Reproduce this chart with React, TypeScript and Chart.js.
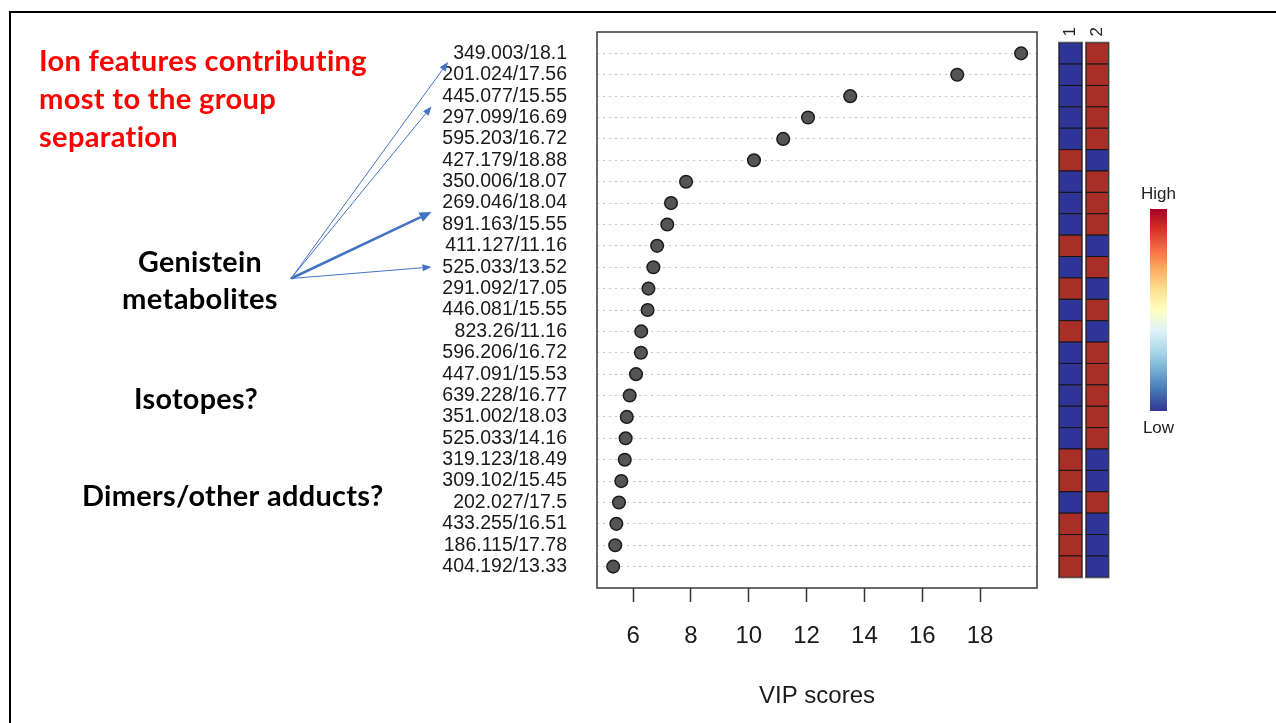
import React, { useEffect, useRef } from "react";
import { Chart, registerables } from "chart.js";

Chart.register(...registerables);

// ---- data ----
const features = [
  "349.003/18.1",
  "201.024/17.56",
  "445.077/15.55",
  "297.099/16.69",
  "595.203/16.72",
  "427.179/18.88",
  "350.006/18.07",
  "269.046/18.04",
  "891.163/15.55",
  "411.127/11.16",
  "525.033/13.52",
  "291.092/17.05",
  "446.081/15.55",
  "823.26/11.16",
  "596.206/16.72",
  "447.091/15.53",
  "639.228/16.77",
  "351.002/18.03",
  "525.033/14.16",
  "319.123/18.49",
  "309.102/15.45",
  "202.027/17.5",
  "433.255/16.51",
  "186.115/17.78",
  "404.192/13.33",
];

const vipScores = [
  19.42, 17.21, 13.51, 12.05, 11.19, 10.18, 7.83, 7.31, 7.18, 6.83, 6.7, 6.53,
  6.5, 6.28, 6.27, 6.1, 5.88, 5.78, 5.74, 5.71, 5.59, 5.51, 5.42, 5.38, 5.31,
];

// 1 = high (red), 0 = low (blue)
const group1High = [0, 0, 0, 0, 0, 1, 0, 0, 0, 1, 0, 1, 0, 1, 0, 0, 0, 0, 0, 1, 1, 0, 1, 1, 1];
const group2High = [1, 1, 1, 1, 1, 0, 1, 1, 1, 0, 1, 0, 1, 0, 1, 1, 1, 1, 1, 0, 0, 1, 0, 0, 0];
const groupLabels = ["1", "2"];

const xTicks = [6, 8, 10, 12, 14, 16, 18];
const xMin = 4.75;
const xMax = 19.97;

const legendLabels = ["High", "Low"];

const titleLines = ["Ion features contributing", "most to the group", "separation"];
const noteGenistein = ["Genistein", "metabolites"];
const noteIsotopes = "Isotopes?";
const noteDimers = "Dimers/other adducts?";

// ---- drawing helpers ----
const AXIS_FONT = "'Liberation Sans', Arial, sans-serif";
const NOTE_FONT = "Lato, 'Open Sans', sans-serif";

function fitText(
  ctx: CanvasRenderingContext2D,
  text: string,
  x: number,
  baseline: number,
  width: number,
  font: string,
  color: string
) {
  ctx.save();
  ctx.font = font;
  // non-zero letter spacing switches off Lato's "ti" ligature
  (ctx as any).letterSpacing = "0.3px";
  ctx.fillStyle = color;
  ctx.textAlign = "left";
  ctx.textBaseline = "alphabetic";
  const m = ctx.measureText(text).width;
  ctx.translate(x, baseline);
  ctx.scale(width / m, 1);
  ctx.fillText(text, 0, 0);
  ctx.restore();
}

function arrow(
  ctx: CanvasRenderingContext2D,
  x0: number,
  y0: number,
  x1: number,
  y1: number,
  w: number
) {
  const ang = Math.atan2(y1 - y0, x1 - x0);
  const len = w > 1.5 ? 12 : 9;
  const half = w > 1.5 ? 5 : 3.6;
  const bx = x1 - len * Math.cos(ang);
  const by = y1 - len * Math.sin(ang);
  ctx.save();
  ctx.strokeStyle = "#4472C4";
  ctx.fillStyle = "#4472C4";
  ctx.lineWidth = w;
  ctx.beginPath();
  ctx.moveTo(x0, y0);
  ctx.lineTo(bx, by);
  ctx.stroke();
  ctx.beginPath();
  ctx.moveTo(x1, y1);
  ctx.lineTo(bx + half * Math.sin(ang), by - half * Math.cos(ang));
  ctx.lineTo(bx - half * Math.sin(ang), by + half * Math.cos(ang));
  ctx.closePath();
  ctx.fill();
  ctx.restore();
}

const decorPlugin = {
  id: "decor",
  beforeDatasetsDraw(chart: any) {
    const { ctx, chartArea } = chart;
    ctx.save();
    ctx.strokeStyle = "#3a3a3a";
    ctx.lineWidth = 1.5;
    ctx.strokeRect(
      chartArea.left,
      chartArea.top,
      chartArea.right - chartArea.left,
      chartArea.bottom - chartArea.top
    );
    ctx.restore();
  },
  afterDraw(chart: any) {
    const { ctx } = chart;
    const yScale = chart.scales.y;

    // slide frame
    ctx.save();
    ctx.fillStyle = "#000";
    ctx.fillRect(9, 11, 1276, 2);
    ctx.fillRect(9, 11, 2, 723);
    ctx.restore();

    // heatmap
    const cellH = Math.abs(yScale.getPixelForValue(1.5) - yScale.getPixelForValue(0.5));
    const cols = [
      { data: group1High, x: 1059, w: 23 },
      { data: group2High, x: 1086, w: 22.5 },
    ];
    cols.forEach((col, ci) => {
      col.data.forEach((v, i) => {
        const cy = yScale.getPixelForValue(i + 1);
        const top = cy - cellH / 2;
        ctx.fillStyle = v ? "#a92e27" : "#2f3596";
        ctx.fillRect(col.x, top, col.w, cellH);
        ctx.strokeStyle = "#151515";
        ctx.lineWidth = 1;
        ctx.strokeRect(col.x, top, col.w, cellH);
      });
      const top0 = yScale.getPixelForValue(1) - cellH / 2;
      const bot = yScale.getPixelForValue(col.data.length) + cellH / 2;
      ctx.strokeStyle = "#666";
      ctx.lineWidth = 1;
      ctx.strokeRect(col.x - 0.5, top0 - 0.5, col.w + 1, bot - top0 + 1);
      // column label
      ctx.save();
      ctx.translate(col.x + col.w / 2, top0 - 11);
      ctx.rotate(-Math.PI / 2);
      ctx.font = `17px ${AXIS_FONT}`;
      ctx.fillStyle = "#222";
      ctx.textAlign = "center";
      ctx.textBaseline = "middle";
      ctx.fillText(groupLabels[ci], 0, 0);
      ctx.restore();
    });

    // colour bar
    const cbX = 1150,
      cbW = 17,
      cbTop = 209,
      cbBot = 411;
    const g = ctx.createLinearGradient(0, cbTop, 0, cbBot);
    const stops = [
      "#a50026",
      "#d73027",
      "#f46d43",
      "#fdae61",
      "#fee090",
      "#ffffbf",
      "#e0f3f8",
      "#abd9e9",
      "#74add1",
      "#4575b4",
      "#313695",
    ];
    stops.forEach((c, i) => g.addColorStop(i / (stops.length - 1), c));
    ctx.fillStyle = g;
    ctx.fillRect(cbX, cbTop, cbW, cbBot - cbTop);
    ctx.save();
    ctx.font = `17px ${AXIS_FONT}`;
    ctx.fillStyle = "#222";
    ctx.textAlign = "center";
    ctx.textBaseline = "middle";
    ctx.fillText(legendLabels[0], cbX + cbW / 2, 194);
    ctx.fillText(legendLabels[1], cbX + cbW / 2, 428);
    ctx.restore();

    // notes
    const red = "#ff0000";
    const bold = `bold 28px ${NOTE_FONT}`;
    fitText(ctx, titleLines[0], 39, 71, 328, bold, red);
    fitText(ctx, titleLines[1], 39, 109, 237, bold, red);
    fitText(ctx, titleLines[2], 39, 147, 139, bold, red);
    fitText(ctx, noteGenistein[0], 138, 271.5, 124, bold, "#000");
    fitText(ctx, noteGenistein[1], 122, 308.5, 156, bold, "#000");
    fitText(ctx, noteIsotopes, 134, 408.5, 124, bold, "#000");
    fitText(ctx, noteDimers, 82, 506, 301.5, bold, "#000");

    // arrows
    const ox = 291,
      oy = 278.5;
    arrow(ctx, ox, oy, 448, 62, 1);
    arrow(ctx, ox, oy, 431.5, 106.5, 1);
    arrow(ctx, ox, oy, 431.5, 212, 2.5);
    arrow(ctx, ox, oy, 431.5, 267, 1);
  },
};

export default function App() {
  const canvasRef = useRef<HTMLCanvasElement | null>(null);

  useEffect(() => {
    document.body.style.margin = "0";
    const canvas = canvasRef.current;
    if (!canvas) return;
    const chart = new Chart(canvas, {
      type: "scatter",
      data: {
        datasets: [
          {
            data: vipScores.map((v, i) => ({ x: v, y: i + 1 })),
            backgroundColor: "#555555",
            borderColor: "#1c1c1c",
            borderWidth: 1.5,
            pointRadius: 6.3,
            pointHoverRadius: 6.3,
          },
        ],
      },
      options: {
        animation: false,
        responsive: false,
        devicePixelRatio: 1,
        events: [],
        layout: { padding: { top: 32, right: 239, left: 0, bottom: 0 } },
        plugins: {
          legend: { display: false },
          tooltip: { enabled: false },
        },
        scales: {
          x: {
            type: "linear",
            position: "bottom",
            min: xMin,
            max: xMax,
            afterBuildTicks: (scale: any) => {
              scale.ticks = xTicks.map((v) => ({ value: v }));
            },
            afterFit: (scale: any) => {
              scale.height = 135;
              scale.paddingLeft = 0;
              scale.paddingRight = 0;
            },
            grid: {
              drawOnChartArea: false,
              drawTicks: true,
              tickLength: 14,
              tickColor: "#333",
              tickWidth: 1.5,
            },
            border: { display: false },
            ticks: {
              font: { family: AXIS_FONT, size: 24 },
              color: "#1a1a1a",
              padding: 20,
              maxRotation: 0,
              autoSkip: false,
            },
            title: {
              display: true,
              text: "VIP scores",
              font: { family: AXIS_FONT, size: 24 },
              color: "#1a1a1a",
              padding: { top: 0, bottom: 12 },
            },
          },
          y: {
            type: "linear",
            reverse: true,
            min: 0,
            max: features.length + 1,
            afterBuildTicks: (scale: any) => {
              scale.ticks = features.map((_, i) => ({ value: i + 1 }));
            },
            afterFit: (scale: any) => {
              scale.width = 597;
              scale.paddingTop = 0;
              scale.paddingBottom = 0;
            },
            grid: {
              drawTicks: false,
              color: "#c4c4c4",
              lineWidth: 1,
            },
            border: { display: false, dash: [2, 4] },
            ticks: {
              font: { family: AXIS_FONT, size: 19.5 },
              color: "#1a1a1a",
              padding: 30,
              autoSkip: false,
              callback: (v: any) => features[Number(v) - 1] ?? "",
            },
          },
        },
      },
      plugins: [decorPlugin],
    } as any);
    return () => chart.destroy();
  }, []);

  return (
    <div style={{ position: "absolute", left: 0, top: 0, width: 1276, height: 723, background: "#fff" }}>
      <canvas ref={canvasRef} width={1276} height={723} style={{ display: "block" }} />
    </div>
  );
}
